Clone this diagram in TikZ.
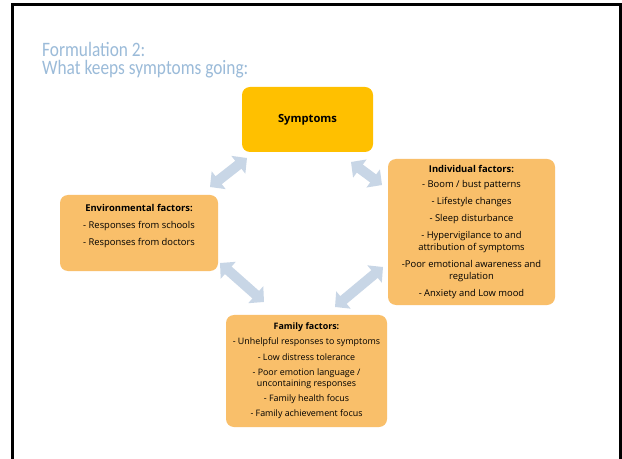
\documentclass[tikz,border=0pt]{standalone}
\usepackage{fontspec}
\setmainfont{Open Sans}
\newfontfamily\headingfont{Carlito}
\usetikzlibrary{arrows.meta}
\definecolor{titleblue}{RGB}{155,187,217}
\definecolor{symgold}{RGB}{255,192,0}
\definecolor{factorfill}{RGB}{249,191,106}
\definecolor{linkblue}{RGB}{200,214,230}
\newcommand{\headline}[1]{\scalebox{0.845}[1]{#1}}
\begin{document}
\begin{tikzpicture}[x=1bp,y=-1bp,
  symbox/.style={fill=symgold, rounded corners=8bp, inner sep=0pt,
    font=\fontsize{11.2bp}{13bp}\selectfont\bfseries},
  factorbox/.style={fill=factorfill, rounded corners=8bp, align=center, inner sep=0pt,
    font=\fontsize{9.4bp}{12bp}\selectfont},
  smallfactor/.style={factorbox, font=\fontsize{8.9bp}{11.5bp}\selectfont},
  link/.style={draw=linkblue, line width=10bp,
    {Triangle[width=22bp,length=11bp]}-{Triangle[width=22bp,length=11bp]}},
  heading/.style={anchor=base west, inner sep=0pt, text=titleblue,
    font=\headingfont\fontsize{20.5bp}{24bp}\selectfont}]
\useasboundingbox (0,0) rectangle (622,459);
\fill[white] (0,0) rectangle (622,459);

% slide frame (open at the bottom)
\draw[line width=3bp] (12.5,462) -- (12.5,5) -- (620,5) -- (620,462);

% heading
\node[heading] (h1) at (42,56.5) {\headline{Formulation 2:}};
\node[heading] (h2) at (42,75) {\headline{What keeps symptoms going:}};

% boxes
\node[symbox, minimum width=131bp, minimum height=65bp] (sym) at (307.5,119.5) {Symptoms};

\node[factorbox, minimum width=167bp, minimum height=146bp] (ind) at (471.5,232)
  {\textbf{Individual factors:}\\[3bp]
   - Boom / bust patterns\\[5bp]
   - Lifestyle changes\\[5bp]
   - Sleep disturbance\\[5bp]
   - Hypervigilance to and\\
   attribution of symptoms\\[5bp]
   -Poor emotional awareness and\\
   regulation\\[5bp]
   - Anxiety and Low mood};

\node[factorbox, minimum width=158bp, minimum height=76bp] (env) at (139,233)
  {\textbf{Environmental factors:}\\[5bp]
   - Responses from schools\\[5bp]
   - Responses from doctors\\[5bp]
   \mbox{}};

\node[smallfactor, minimum width=161bp, minimum height=112bp] (fam) at (306.5,371)
  {\textbf{Family factors:}\\[3.6bp]
   - Unhelpful responses to symptoms\\[3.6bp]
   - Low distress tolerance\\[3.6bp]
   - Poor emotion language /\\
   uncontaining responses\\[3.6bp]
   - Family health focus\\[3.6bp]
   - Family achievement focus};

% two-way links between the boxes
\coordinate (symL) at (247,158);
\coordinate (envT) at (210,187);
\coordinate (symR) at (351,162);
\coordinate (indT) at (382,185);
\coordinate (envB) at (220,263);
\coordinate (famL) at (264,302);
\coordinate (indB) at (383,267);
\coordinate (famR) at (335,307);

\draw[link] (symL) -- (envT);
\draw[link] (symR) -- (indT);
\draw[link] (envB) -- (famL);
\draw[link] (indB) -- (famR);
\end{tikzpicture}
\end{document}
